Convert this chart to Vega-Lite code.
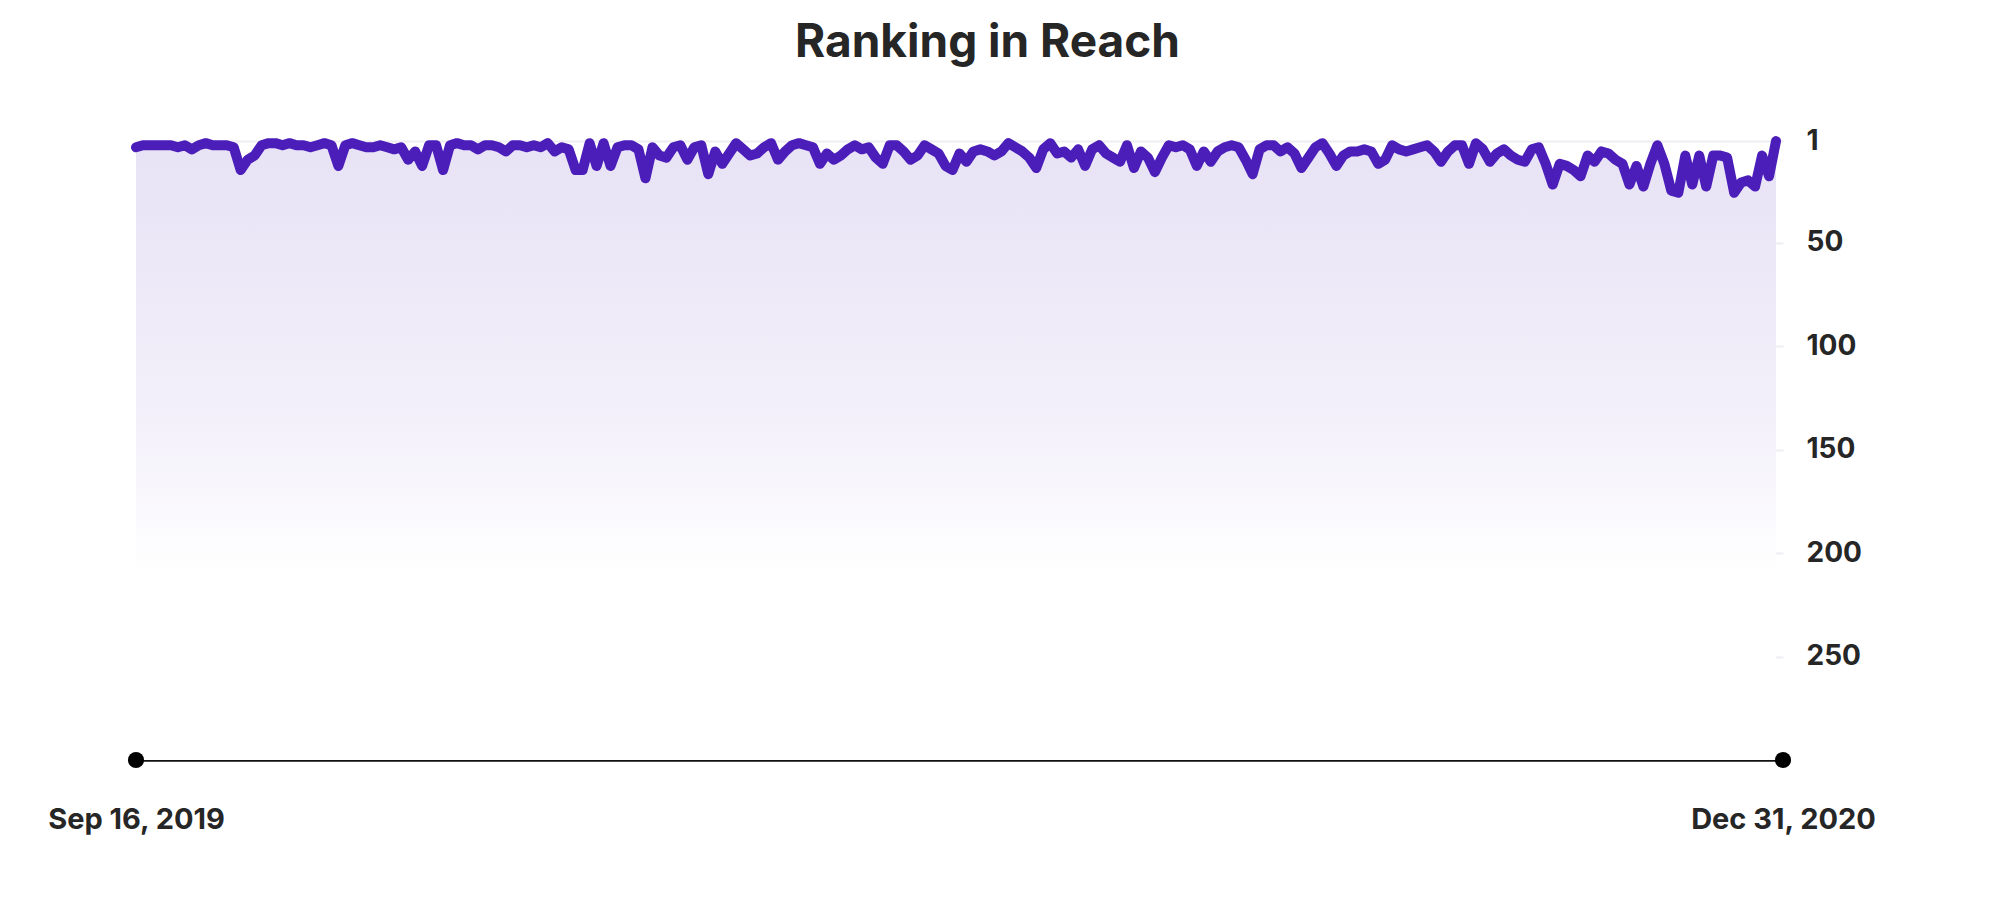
{
  "$schema": "https://vega.github.io/schema/vega-lite/v6.json",
  "width": 1647,
  "height": 621,
  "autosize": "none",
  "padding": {"left": 136, "top": 139, "right": 217, "bottom": 149},
  "background": "white",
  "title": {
    "text": "Ranking in Reach",
    "fontSize": 46,
    "font": "Inter",
    "fontWeight": "bold",
    "color": "#262626",
    "anchor": "middle",
    "frame": "group",
    "offset": 60,
    "dx": 28
  },
  "config": {
    "view": {"stroke": null},
    "axis": {"labelFont": "Inter", "labelFontWeight": "bold", "labelColor": "#262626", "labelLimit": 0}
  },
  "data": {
    "values": [
      {"date": "2019-09-16", "rank": 4}, {"date": "2019-09-18", "rank": 3}, {"date": "2019-09-20", "rank": 3}, {"date": "2019-09-22", "rank": 3},
      {"date": "2019-09-24", "rank": 3}, {"date": "2019-09-26", "rank": 3}, {"date": "2019-09-28", "rank": 4}, {"date": "2019-09-30", "rank": 3},
      {"date": "2019-10-02", "rank": 5}, {"date": "2019-10-04", "rank": 3}, {"date": "2019-10-06", "rank": 2}, {"date": "2019-10-08", "rank": 3},
      {"date": "2019-10-10", "rank": 3}, {"date": "2019-10-12", "rank": 3}, {"date": "2019-10-14", "rank": 4}, {"date": "2019-10-16", "rank": 15},
      {"date": "2019-10-18", "rank": 10}, {"date": "2019-10-20", "rank": 8}, {"date": "2019-10-22", "rank": 3}, {"date": "2019-10-24", "rank": 2},
      {"date": "2019-10-26", "rank": 2}, {"date": "2019-10-28", "rank": 3}, {"date": "2019-10-30", "rank": 2}, {"date": "2019-11-01", "rank": 3},
      {"date": "2019-11-03", "rank": 3}, {"date": "2019-11-05", "rank": 4}, {"date": "2019-11-07", "rank": 3}, {"date": "2019-11-09", "rank": 2},
      {"date": "2019-11-11", "rank": 3}, {"date": "2019-11-13", "rank": 13}, {"date": "2019-11-15", "rank": 3}, {"date": "2019-11-17", "rank": 2},
      {"date": "2019-11-19", "rank": 3}, {"date": "2019-11-21", "rank": 4}, {"date": "2019-11-23", "rank": 4}, {"date": "2019-11-25", "rank": 3},
      {"date": "2019-11-27", "rank": 4}, {"date": "2019-11-29", "rank": 5}, {"date": "2019-12-01", "rank": 4}, {"date": "2019-12-03", "rank": 10},
      {"date": "2019-12-05", "rank": 6}, {"date": "2019-12-07", "rank": 13}, {"date": "2019-12-09", "rank": 3}, {"date": "2019-12-11", "rank": 3},
      {"date": "2019-12-13", "rank": 15}, {"date": "2019-12-15", "rank": 3}, {"date": "2019-12-17", "rank": 2}, {"date": "2019-12-19", "rank": 3},
      {"date": "2019-12-21", "rank": 3}, {"date": "2019-12-23", "rank": 5}, {"date": "2019-12-25", "rank": 3}, {"date": "2019-12-27", "rank": 3},
      {"date": "2019-12-29", "rank": 4}, {"date": "2019-12-31", "rank": 6}, {"date": "2020-01-02", "rank": 3}, {"date": "2020-01-04", "rank": 3},
      {"date": "2020-01-06", "rank": 4}, {"date": "2020-01-08", "rank": 3}, {"date": "2020-01-10", "rank": 4}, {"date": "2020-01-12", "rank": 2},
      {"date": "2020-01-14", "rank": 6}, {"date": "2020-01-16", "rank": 4}, {"date": "2020-01-18", "rank": 5}, {"date": "2020-01-20", "rank": 15},
      {"date": "2020-01-22", "rank": 15}, {"date": "2020-01-24", "rank": 2}, {"date": "2020-01-26", "rank": 13}, {"date": "2020-01-28", "rank": 2},
      {"date": "2020-01-30", "rank": 13}, {"date": "2020-02-01", "rank": 4}, {"date": "2020-02-03", "rank": 3}, {"date": "2020-02-05", "rank": 3},
      {"date": "2020-02-07", "rank": 5}, {"date": "2020-02-09", "rank": 19}, {"date": "2020-02-11", "rank": 4}, {"date": "2020-02-13", "rank": 8},
      {"date": "2020-02-15", "rank": 9}, {"date": "2020-02-17", "rank": 4}, {"date": "2020-02-19", "rank": 3}, {"date": "2020-02-21", "rank": 10},
      {"date": "2020-02-23", "rank": 4}, {"date": "2020-02-25", "rank": 3}, {"date": "2020-02-27", "rank": 17}, {"date": "2020-02-29", "rank": 6},
      {"date": "2020-03-02", "rank": 12}, {"date": "2020-03-04", "rank": 7}, {"date": "2020-03-06", "rank": 2}, {"date": "2020-03-08", "rank": 5},
      {"date": "2020-03-10", "rank": 8}, {"date": "2020-03-12", "rank": 7}, {"date": "2020-03-14", "rank": 4}, {"date": "2020-03-16", "rank": 2},
      {"date": "2020-03-18", "rank": 10}, {"date": "2020-03-20", "rank": 6}, {"date": "2020-03-22", "rank": 3}, {"date": "2020-03-24", "rank": 2},
      {"date": "2020-03-26", "rank": 3}, {"date": "2020-03-28", "rank": 4}, {"date": "2020-03-30", "rank": 12}, {"date": "2020-04-01", "rank": 7},
      {"date": "2020-04-03", "rank": 10}, {"date": "2020-04-05", "rank": 8}, {"date": "2020-04-07", "rank": 5}, {"date": "2020-04-09", "rank": 3},
      {"date": "2020-04-11", "rank": 5}, {"date": "2020-04-13", "rank": 4}, {"date": "2020-04-15", "rank": 9}, {"date": "2020-04-17", "rank": 12},
      {"date": "2020-04-19", "rank": 3}, {"date": "2020-04-21", "rank": 3}, {"date": "2020-04-23", "rank": 6}, {"date": "2020-04-25", "rank": 10},
      {"date": "2020-04-27", "rank": 8}, {"date": "2020-04-29", "rank": 3}, {"date": "2020-05-01", "rank": 5}, {"date": "2020-05-03", "rank": 7},
      {"date": "2020-05-05", "rank": 13}, {"date": "2020-05-07", "rank": 15}, {"date": "2020-05-09", "rank": 7}, {"date": "2020-05-11", "rank": 11},
      {"date": "2020-05-13", "rank": 6}, {"date": "2020-05-15", "rank": 5}, {"date": "2020-05-17", "rank": 6}, {"date": "2020-05-19", "rank": 8},
      {"date": "2020-05-21", "rank": 6}, {"date": "2020-05-23", "rank": 2}, {"date": "2020-05-25", "rank": 4}, {"date": "2020-05-27", "rank": 6},
      {"date": "2020-05-29", "rank": 9}, {"date": "2020-05-31", "rank": 14}, {"date": "2020-06-02", "rank": 5}, {"date": "2020-06-04", "rank": 2},
      {"date": "2020-06-06", "rank": 7}, {"date": "2020-06-08", "rank": 6}, {"date": "2020-06-10", "rank": 9}, {"date": "2020-06-12", "rank": 5},
      {"date": "2020-06-14", "rank": 13}, {"date": "2020-06-16", "rank": 5}, {"date": "2020-06-18", "rank": 3}, {"date": "2020-06-20", "rank": 7},
      {"date": "2020-06-22", "rank": 9}, {"date": "2020-06-24", "rank": 11}, {"date": "2020-06-26", "rank": 3}, {"date": "2020-06-28", "rank": 14},
      {"date": "2020-06-30", "rank": 6}, {"date": "2020-07-02", "rank": 9}, {"date": "2020-07-04", "rank": 16}, {"date": "2020-07-06", "rank": 9},
      {"date": "2020-07-08", "rank": 3}, {"date": "2020-07-10", "rank": 4}, {"date": "2020-07-12", "rank": 3}, {"date": "2020-07-14", "rank": 5},
      {"date": "2020-07-16", "rank": 13}, {"date": "2020-07-18", "rank": 6}, {"date": "2020-07-20", "rank": 11}, {"date": "2020-07-22", "rank": 6},
      {"date": "2020-07-24", "rank": 4}, {"date": "2020-07-26", "rank": 3}, {"date": "2020-07-28", "rank": 4}, {"date": "2020-07-30", "rank": 10},
      {"date": "2020-08-01", "rank": 17}, {"date": "2020-08-03", "rank": 5}, {"date": "2020-08-05", "rank": 3}, {"date": "2020-08-07", "rank": 3},
      {"date": "2020-08-09", "rank": 6}, {"date": "2020-08-11", "rank": 4}, {"date": "2020-08-13", "rank": 7}, {"date": "2020-08-15", "rank": 14},
      {"date": "2020-08-17", "rank": 9}, {"date": "2020-08-19", "rank": 4}, {"date": "2020-08-21", "rank": 2}, {"date": "2020-08-23", "rank": 7},
      {"date": "2020-08-25", "rank": 13}, {"date": "2020-08-27", "rank": 8}, {"date": "2020-08-29", "rank": 6}, {"date": "2020-08-31", "rank": 6},
      {"date": "2020-09-02", "rank": 5}, {"date": "2020-09-04", "rank": 6}, {"date": "2020-09-06", "rank": 12}, {"date": "2020-09-08", "rank": 10},
      {"date": "2020-09-10", "rank": 3}, {"date": "2020-09-12", "rank": 5}, {"date": "2020-09-14", "rank": 6}, {"date": "2020-09-16", "rank": 5},
      {"date": "2020-09-18", "rank": 4}, {"date": "2020-09-20", "rank": 3}, {"date": "2020-09-22", "rank": 6}, {"date": "2020-09-24", "rank": 11},
      {"date": "2020-09-26", "rank": 6}, {"date": "2020-09-28", "rank": 3}, {"date": "2020-09-30", "rank": 3}, {"date": "2020-10-02", "rank": 12},
      {"date": "2020-10-04", "rank": 2}, {"date": "2020-10-06", "rank": 5}, {"date": "2020-10-08", "rank": 11}, {"date": "2020-10-10", "rank": 7},
      {"date": "2020-10-12", "rank": 5}, {"date": "2020-10-14", "rank": 8}, {"date": "2020-10-16", "rank": 10}, {"date": "2020-10-18", "rank": 11},
      {"date": "2020-10-20", "rank": 5}, {"date": "2020-10-22", "rank": 4}, {"date": "2020-10-24", "rank": 12}, {"date": "2020-10-26", "rank": 22},
      {"date": "2020-10-28", "rank": 12}, {"date": "2020-10-30", "rank": 13}, {"date": "2020-11-01", "rank": 15}, {"date": "2020-11-03", "rank": 18},
      {"date": "2020-11-05", "rank": 8}, {"date": "2020-11-07", "rank": 11}, {"date": "2020-11-09", "rank": 6}, {"date": "2020-11-11", "rank": 7},
      {"date": "2020-11-13", "rank": 10}, {"date": "2020-11-15", "rank": 12}, {"date": "2020-11-17", "rank": 22}, {"date": "2020-11-19", "rank": 13},
      {"date": "2020-11-21", "rank": 23}, {"date": "2020-11-23", "rank": 12}, {"date": "2020-11-25", "rank": 3}, {"date": "2020-11-27", "rank": 12},
      {"date": "2020-11-29", "rank": 25}, {"date": "2020-12-01", "rank": 26}, {"date": "2020-12-03", "rank": 8}, {"date": "2020-12-05", "rank": 22},
      {"date": "2020-12-07", "rank": 8}, {"date": "2020-12-09", "rank": 23}, {"date": "2020-12-11", "rank": 8}, {"date": "2020-12-13", "rank": 8},
      {"date": "2020-12-15", "rank": 9}, {"date": "2020-12-17", "rank": 26}, {"date": "2020-12-19", "rank": 21}, {"date": "2020-12-21", "rank": 20},
      {"date": "2020-12-23", "rank": 23}, {"date": "2020-12-25", "rank": 8}, {"date": "2020-12-27", "rank": 18}, {"date": "2020-12-29", "rank": 1}
    ]
  },
  "encoding": {
    "x": {
      "field": "date",
      "type": "temporal",
      "title": null,
      "scale": {
        "type": "utc",
        "domain": [
          {"year": 2019, "month": 9, "date": 16, "utc": true},
          {"year": 2020, "month": 12, "date": 31, "utc": true}
        ]
      },
      "axis": {
        "values": [
          {"year": 2019, "month": 9, "date": 16, "utc": true},
          {"year": 2020, "month": 12, "date": 31, "utc": true}
        ],
        "format": "%b %d, %Y",
        "grid": false,
        "ticks": false,
        "domainColor": "#111111",
        "domainWidth": 2.5,
        "labelFontSize": 29,
        "labelBaseline": "alphabetic",
        "labelPadding": 68,
        "labelFlush": false,
        "labelOverlap": false,
        "labelBound": false
      }
    },
    "y": {
      "field": "rank",
      "type": "quantitative",
      "title": null,
      "scale": {"domain": [0, 300], "reverse": true, "nice": false},
      "axis": {
        "orient": "right",
        "values": [1, 50, 100, 150, 200, 250],
        "domain": false,
        "ticks": false,
        "grid": true,
        "gridColor": "#eeeef2",
        "gridWidth": 2,
        "labelFontSize": 28,
        "labelPadding": 23,
        "labelAlign": "left",
        "labelBaseline": "middle"
      }
    }
  },
  "layer": [
    {
      "mark": {
        "type": "area",
        "fillOpacity": 1,
        "color": {
          "gradient": "linear",
          "x1": 0, "y1": 0, "x2": 0, "y2": 1,
          "stops": [
            {"offset": 0, "color": "#e7e2f5"},
            {"offset": 0.45, "color": "#f3f0fa"},
            {"offset": 0.7, "color": "#ffffff"},
            {"offset": 1, "color": "#ffffff"}
          ]
        }
      },
      "encoding": {"y2": {"datum": 300}}
    },
    {
      "mark": {
        "type": "line",
        "color": "#4b1db9",
        "strokeWidth": 10,
        "strokeJoin": "round",
        "strokeCap": "round"
      }
    },
    {
      "data": {"values": [{"date": "2019-09-16", "end": 300}, {"date": "2020-12-31", "end": 300}]},
      "mark": {"type": "circle", "color": "#000000", "size": 260, "opacity": 1, "clip": false},
      "encoding": {"y": {"field": "end", "type": "quantitative"}}
    }
  ]
}
